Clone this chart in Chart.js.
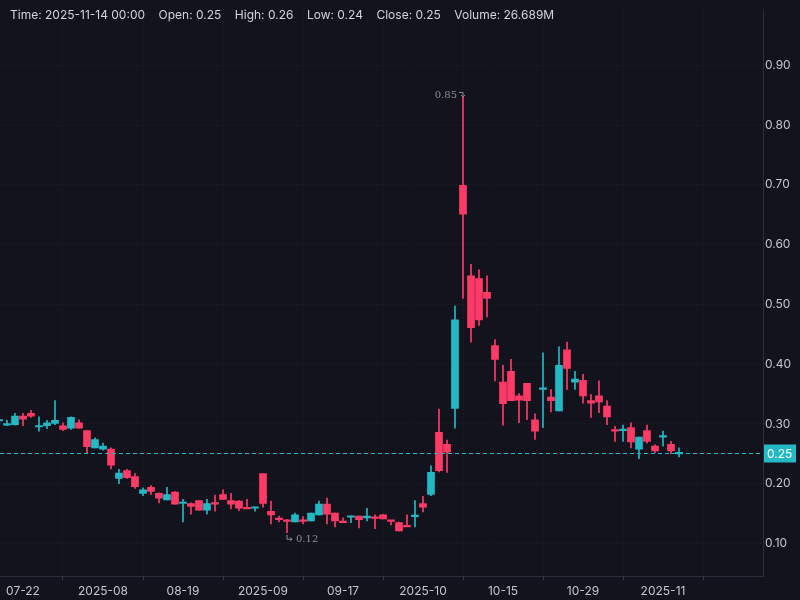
<!DOCTYPE html>
<html><head><meta charset="utf-8">
<script src="https://cdn.jsdelivr.net/npm/chart.js@4.4.0/dist/chart.umd.min.js"></script>
<style>html,body{margin:0;padding:0;background:#13131d;}#wrap{width:800px;height:600px;}</style>
</head><body><div id="wrap"><canvas id="c" width="800" height="600"></canvas></div>
<script>
const openP  = [.305,.298,.299,.313,.318,.295,.297,.301,.297,.293,.302,.289,.260,.258,.258,.209,.222,.212,.184,.194,.184,.173,.186,.167,.167,.172,.156,.167,.182,.172,.171,.159,.159,.217,.154,.141,.138,.136,.138,.138,.148,.166,.151,.136,.144,.146,.143,.143,.148,.138,.135,.129,.145,.167,.182,.286,.266,.326,.699,.548,.543,.520,.431,.370,.388,.347,.368,.307,.358,.345,.322,.424,.370,.373,.339,.347,.330,.289,.289,.294,.258,.289,.263,.278,.266,.250];
const highP  = [.307,.306,.318,.318,.323,.312,.306,.339,.302,.312,.307,.289,.277,.268,.260,.224,.224,.217,.193,.197,.185,.194,.187,.174,.168,.172,.174,.181,.190,.184,.172,.174,.161,.217,.171,.146,.140,.151,.145,.151,.171,.176,.151,.143,.146,.146,.159,.148,.149,.139,.136,.148,.172,.179,.230,.325,.273,.497,.847,.567,.558,.548,.441,.398,.408,.351,.368,.317,.419,.358,.429,.437,.388,.383,.349,.372,.339,.296,.298,.302,.278,.298,.265,.288,.271,.260];
const lowP   = [.303,.297,.298,.297,.311,.288,.292,.299,.289,.291,.293,.252,.260,.256,.225,.200,.209,.192,.180,.182,.168,.173,.166,.136,.149,.156,.149,.154,.174,.158,.155,.159,.154,.161,.133,.136,.118,.136,.133,.138,.148,.133,.128,.136,.135,.126,.138,.125,.141,.131,.121,.129,.128,.153,.180,.220,.219,.293,.510,.437,.465,.479,.372,.298,.339,.302,.307,.274,.294,.320,.322,.358,.358,.335,.311,.319,.299,.271,.271,.260,.242,.268,.252,.263,.250,.245];
const closeP = [.306,.299,.313,.308,.313,.296,.302,.306,.291,.311,.293,.262,.274,.263,.231,.218,.210,.195,.190,.187,.176,.182,.166,.168,.162,.156,.167,.166,.174,.166,.159,.158,.160,.167,.148,.140,.137,.148,.137,.151,.166,.149,.138,.135,.145,.140,.146,.142,.141,.137,.121,.128,.146,.161,.219,.222,.253,.474,.651,.461,.474,.510,.408,.334,.339,.340,.339,.288,.359,.339,.398,.393,.375,.347,.335,.337,.312,.288,.290,.270,.278,.271,.255,.279,.255,.251];
const tickIdx = [3,13,23,33,43,53,63,73,83];
const tickLabels = ['07-22','2025-08','08-19','2025-09','09-17','2025-10','10-15','10-29','2025-11'];
const yTicks = [0.1,0.2,0.3,0.4,0.5,0.6,0.7,0.8,0.9];

const UP='#22b8c4', DN='#fe3a67';
const idx = openP.map((_,i)=>i);
const cols = idx.map(i=>closeP[i]>=openP[i]?UP:DN);

const overlay = {
  id:'overlay',
  afterDatasetsDraw(chart){
    const {ctx, scales:{x,y}, chartArea:ca} = chart;
    ctx.save();
    // price line
    const last = closeP[closeP.length-1];
    const py = Math.round(y.getPixelForValue(last))+0.5;
    ctx.strokeStyle=UP; ctx.lineWidth=1; ctx.setLineDash([4,3]);
    ctx.beginPath(); ctx.moveTo(ca.left,py); ctx.lineTo(ca.right,py); ctx.stroke();
    ctx.setLineDash([]);
    ctx.fillStyle=UP; ctx.fillRect(ca.right+1,py-9,32,18);
    ctx.fillStyle='#ffffff'; ctx.font='12px Inter'; ctx.textBaseline='middle'; ctx.textAlign='left';
    ctx.fillText(last.toFixed(2), ca.right+4, py+1);
    // max / min annotations
    let hi=0, lo=0;
    highP.forEach((v,i)=>{ if(v>highP[hi]) hi=i; });
    lowP.forEach((v,i)=>{ if(v<lowP[lo]) lo=i; });
    ctx.fillStyle='#8a8d96'; ctx.strokeStyle='#8a8d96';
    ctx.font='10px "DejaVu Serif"';
    const hx=x.getPixelForValue(hi), hy=y.getPixelForValue(highP[hi]);
    ctx.textAlign='right'; ctx.fillText('0.85', hx-6, hy-2);
    ctx.beginPath(); ctx.moveTo(hx-4,hy-4.5); ctx.lineTo(hx,hy-4.5); ctx.lineTo(hx,hy); ctx.moveTo(hx-2,hy-2); ctx.lineTo(hx,hy); ctx.lineTo(hx+2,hy-2); ctx.stroke();
    const lx=x.getPixelForValue(lo), ly=y.getPixelForValue(lowP[lo]);
    ctx.beginPath(); ctx.moveTo(lx,ly+2); ctx.lineTo(lx,ly+6.5); ctx.lineTo(lx+5,ly+6.5); ctx.moveTo(lx+3,ly+4.5); ctx.lineTo(lx+5,ly+6.5); ctx.lineTo(lx+3,ly+8.5); ctx.stroke();
    ctx.textAlign='left'; ctx.fillText('0.12', lx+9, ly+7);
    // header
    ctx.font='12px Inter'; ctx.fillStyle='#d1d4dc'; ctx.textBaseline='middle';
    ctx.fillText('Time: 2025-11-14 00:00    Open: 0.25    High: 0.26    Low: 0.24    Close: 0.25    Volume: 26.689M', 10, 15);
    ctx.restore();
  }
};

new Chart(document.getElementById('c'), {
  type:'bar',
  data:{ datasets:[
    { data: idx.map(i=>({x:i,y:[lowP[i],highP[i]]})), backgroundColor:cols, barThickness:1, grouped:false, order:2 },
    { data: idx.map(i=>({x:i,y:[openP[i],closeP[i]]})), backgroundColor:cols, barThickness:7, minBarLength:1.5, grouped:false, order:1 }
  ]},
  options:{
    responsive:false, animation:false, devicePixelRatio:1,
    layout:{padding:0},
    plugins:{legend:{display:false}, tooltip:{enabled:false}},
    scales:{
      x:{ type:'linear', min:0.125, max:95.5, offset:false,
          afterBuildTicks(s){ s.ticks = tickIdx.map(v=>({value:v})); },
          afterFit(s){ s.height=24; },
          ticks:{ color:'#c4c7cf', font:{family:'Inter',size:12}, maxRotation:0, autoSkip:false, padding:4,
                  callback:(v)=>{const k=tickIdx.indexOf(v); return k>=0?tickLabels[k]:'';} },
          grid:{ color:'rgba(255,255,255,0.07)', tickColor:'#3a3d48', tickLength:4, drawTicks:true, tickBorderDash:[] },
          border:{ color:'#2b2e3a', dash:[1,3] } },
      y:{ position:'right', min:0.0457, max:0.9938,
          afterBuildTicks(s){ s.ticks = yTicks.map(v=>({value:v})); },
          afterFit(s){ s.width=37; },
          ticks:{ color:'#c4c7cf', font:{family:'Inter',size:12}, padding:2, callback:v=>v.toFixed(2) },
          grid:{ color:'rgba(255,255,255,0.07)', drawTicks:false },
          border:{ color:'#2b2e3a', dash:[1,3] } }
    }
  },
  plugins:[overlay]
});
</script></body></html>
